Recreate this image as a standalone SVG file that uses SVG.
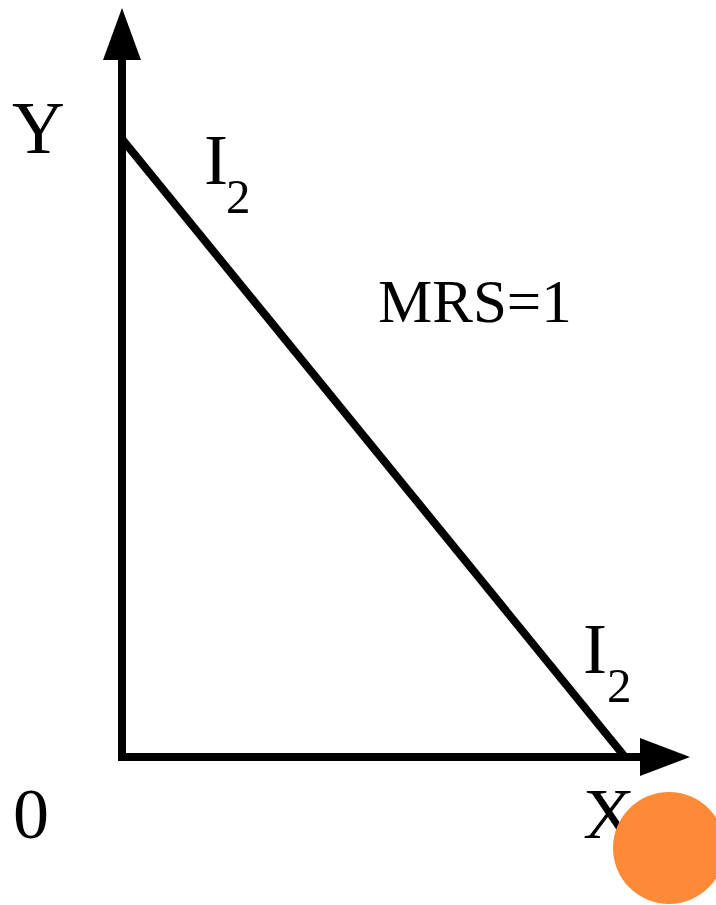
<svg xmlns="http://www.w3.org/2000/svg" width="716" height="905" viewBox="0 0 716 905">
<style>
.t{font-family:"Liberation Serif","Times New Roman",serif;fill:#000}
.ax{stroke:#000;stroke-width:8;fill:none}
</style>
<rect width="716" height="905" fill="#fff"/>
<g id="connectors">
<path class="ax" d="M122,58 V761 M118,757 H642"/>
<path class="ax" d="M122,139 L625,757"/>
<polygon points="122,8 103,60 141,60" fill="#000"/>
<polygon points="690,757 640,738 640,776" fill="#000"/>
</g>
<g id="labels">
<text class="t" x="12" y="153" font-size="73">Y</text>
<text class="t" x="204" y="184" font-size="72">I</text>
<text class="t" x="226" y="213" font-size="49">2</text>
<text class="t" x="378" y="322" font-size="61">MRS=1</text>
<text class="t" x="583" y="673" font-size="72">I</text>
<text class="t" x="607" y="702" font-size="49">2</text>
<text class="t" x="13" y="838" font-size="72">0</text>
<text class="t" x="583" y="838" font-size="72">X</text>
</g>
<circle id="dot" cx="669" cy="848" r="56" fill="#FD8A36"/>
</svg>
